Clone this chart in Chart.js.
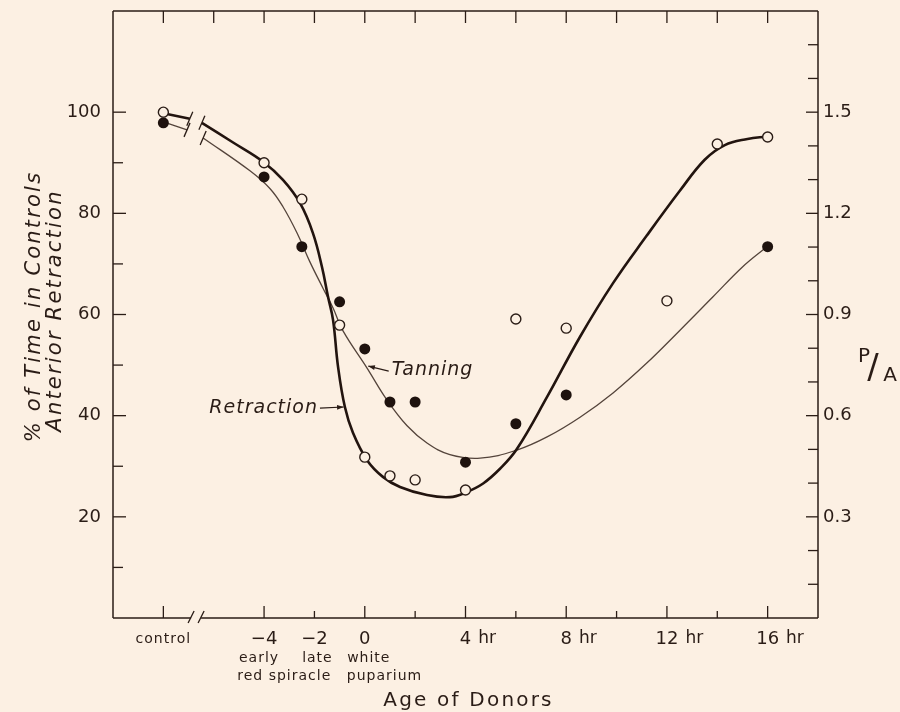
<!DOCTYPE html>
<html>
<head>
<meta charset="utf-8">
<script src="https://cdn.jsdelivr.net/npm/chart.js@4.4.1/dist/chart.umd.min.js"></script>
<style>
  html, body { margin: 0; padding: 0; background: #fcf0e3; }
  #wrap { width: 900px; height: 712px; }
</style>
</head>
<body>
<div id="wrap"><canvas id="chart"></canvas></div>
<script>
// Measured points (x = hours relative to white puparium, control drawn at -8 past the axis break)
const openX = [-8, -4, -2.5, -1, 0, 1, 2, 4, 6, 8, 12, 14, 16];
const openY = [100, 90, 82.8, 57.9, 31.8, 28.1, 27.3, 25.3, 59.1, 57.3, 62.7, 93.7, 95.1];
const filledX = [-8, -4, -2.5, -1, 0, 1, 2, 4, 6, 8, 16];
const filledY = [97.9, 87.2, 73.4, 62.5, 53.2, 42.7, 42.7, 30.8, 38.4, 44.1, 73.4];

// Hand-drawn fitted curves; null marks the axis break.
const retractionX = [-8, -6.95, -6.7, -6.47, -5.23, -4.04, -3.25, -2.57, -2.06, -1.7, -1.46, -1.26, -1.06,
  -0.79, -0.47, 0.09, 0.72, 1.4, 2.47, 3.38, 4.0, 4.7, 5.37, 6.04, 7.24, 8.55, 9.86, 11.2, 12.52, 13.5, 14.3, 15.2, 15.97];
const retractionY = [99.8, 98.7, null, 97.9, 94.0, 90.2, 86.6, 82.0, 76.1, 69.4, 63.5, 58.9, 49.6,
  41.7, 36.6, 31.2, 27.9, 25.9, 24.3, 23.9, 24.8, 26.6, 29.5, 33.4, 43.7, 55.6, 66.2, 75.6, 84.5, 90.6, 93.5, 94.7, 95.2];
const tanningX = [-8, -7.06, -6.7, -6.42, -4.56, -3.77, -3.25, -2.69, -2.18, -1.66, -1.26, -0.87, 0.09,
  0.88, 1.68, 2.47, 3.38, 4.58, 6.04, 7.24, 8.55, 9.86, 11.2, 12.52, 13.83, 15.0, 15.97];
const tanningY = [98.1, 96.5, null, 94.9, 88.4, 84.9, 81.3, 76.1, 70.4, 65.2, 61.3, 56.8, 49.4,
  43.1, 38.0, 34.6, 32.3, 31.6, 33.2, 35.8, 39.7, 44.5, 50.4, 56.9, 63.5, 69.4, 73.4];

// Axis ticks and labels
const xBreak = -6.7;
const topTicks = [-8, -6, -4, -2, 0, 2, 4, 6, 8, 10, 12, 14, 16];
const bottomMajorTicks = [-8, -4, 0, 4, 8, 12, 16];
const bottomMinorTicks = [-2, 2, 6, 10, 14];
const xLabelValues = [-8, -4, -2, 0, 4, 8, 12, 16];
const xLabelText = ['control', '\u22124', '\u22122', '0', '4 hr', '8 hr', '12 hr', '16 hr'];
const stageValues = [-4, -2, 0];
const stageText = ['early', 'late', 'white'];
const leftMajorTicks = [20, 40, 60, 80, 100];
const leftMinorTicks = [10, 30, 50, 70, 90];
const rightMajorTicks = [0.3, 0.6, 0.9, 1.2, 1.5];
const rightMinorTicks = [0.1, 0.2, 0.4, 0.5, 0.7, 0.8, 1.0, 1.1, 1.3, 1.4, 1.6, 1.7];

const INK = '#2a1c16';
const THIN = '#54443b';
const BG = '#fcf0e3';
const FONT = '"DejaVu Sans", sans-serif';

const pts = (xs, ys) => xs.map((x, i) => ({ x, y: ys[i] }));

function line(ctx, x1, y1, x2, y2) {
  ctx.beginPath();
  ctx.moveTo(x1, y1);
  ctx.lineTo(x2, y2);
  ctx.stroke();
}

function text(ctx, s, x, y, font, align, spacing) {
  ctx.font = font;
  ctx.textAlign = align || 'center';
  ctx.textBaseline = 'middle';
  ctx.letterSpacing = spacing || '0px';
  ctx.fillText(s, x, y);
}

function arrow(ctx, x1, y1, x2, y2) {
  line(ctx, x1, y1, x2, y2);
  const a = Math.atan2(y2 - y1, x2 - x1);
  ctx.beginPath();
  ctx.moveTo(x2, y2);
  ctx.lineTo(x2 - 7 * Math.cos(a - 0.35), y2 - 7 * Math.sin(a - 0.35));
  ctx.lineTo(x2 - 7 * Math.cos(a + 0.35), y2 - 7 * Math.sin(a + 0.35));
  ctx.closePath();
  ctx.fill();
}

// Frame, inward ticks, axis break and all lettering are drawn off the chart's own scales.
const figureDecor = {
  id: 'figureDecor',
  beforeDraw(chart) {
    const { ctx, width, height } = chart;
    ctx.save();
    ctx.fillStyle = BG;
    ctx.fillRect(0, 0, width, height);
    ctx.restore();
  },
  afterDatasetsDraw(chart) {
    const { ctx, chartArea: a, scales: { x, y, y1 } } = chart;
    ctx.save();
    ctx.strokeStyle = INK;
    ctx.fillStyle = INK;
    ctx.lineWidth = 1.5;

    // frame (bottom edge broken between control and -4)
    const bx = x.getPixelForValue(xBreak);
    line(ctx, a.left, a.top, a.right, a.top);
    line(ctx, a.left, a.top, a.left, a.bottom);
    line(ctx, a.right, a.top, a.right, a.bottom);
    line(ctx, a.left, a.bottom, bx - 5, a.bottom);
    line(ctx, bx + 5, a.bottom, a.right, a.bottom);
    ctx.lineWidth = 1.3;
    line(ctx, bx - 8, a.bottom + 5, bx - 2, a.bottom - 7);
    line(ctx, bx + 2, a.bottom + 5, bx + 8, a.bottom - 7);

    // ticks
    topTicks.forEach(v => { const p = x.getPixelForValue(v); line(ctx, p, a.top, p, a.top + 12); });
    bottomMajorTicks.forEach(v => { const p = x.getPixelForValue(v); line(ctx, p, a.bottom, p, a.bottom - 12); });
    bottomMinorTicks.forEach(v => { const p = x.getPixelForValue(v); line(ctx, p, a.bottom, p, a.bottom - 7); });
    leftMajorTicks.forEach(v => { const p = y.getPixelForValue(v); line(ctx, a.left, p, a.left + 13, p); });
    leftMinorTicks.forEach(v => { const p = y.getPixelForValue(v); line(ctx, a.left, p, a.left + 10, p); });
    rightMajorTicks.forEach(v => { const p = y1.getPixelForValue(v); line(ctx, a.right, p, a.right - 12, p); });
    rightMinorTicks.forEach(v => { const p = y1.getPixelForValue(v); line(ctx, a.right, p, a.right - 10, p); });

    // break marks on the two curves, either side of the null gap
    [[retractionX, retractionY], [tanningX, tanningY]].forEach(([xs, ys]) => {
      const g = ys.indexOf(null);
      [g - 1, g + 1].forEach(i => {
        const px = x.getPixelForValue(xs[i]);
        const py = y.getPixelForValue(ys[i]);
        line(ctx, px - 3, py + 7, px + 3, py - 7);
      });
    });

    // x tick labels
    const ly = a.bottom + 21;
    xLabelValues.forEach((v, i) => {
      const p = x.getPixelForValue(v);
      const s = xLabelText[i];
      if (v === -8) { text(ctx, s, p, ly, '14px ' + FONT, 'center', '1px'); return; }
      const [num, unit] = s.split(' ');
      text(ctx, num, p, ly, '18px ' + FONT, 'center', '0px');
      if (unit) {
        ctx.font = '18px ' + FONT;
        const w = ctx.measureText(num).width;
        text(ctx, unit, p + w / 2 + 7, ly, '17px ' + FONT, 'left', '0px');
      }
    });
    stageValues.forEach((v, i) => {
      const p = x.getPixelForValue(v);
      const dx = v === 0 ? 4 : -5 + (v === -2 ? 8 : 0);
      text(ctx, stageText[i], p + dx, ly + 19, '14px ' + FONT, 'center', '1px');
    });
    const rs = (x.getPixelForValue(-4) + x.getPixelForValue(-2)) / 2;
    text(ctx, 'red spiracle', rs - 5, ly + 37, '14px ' + FONT, 'center', '1px');
    text(ctx, 'puparium', x.getPixelForValue(0) - 18, ly + 37, '14px ' + FONT, 'left', '1px');
    text(ctx, 'Age of Donors', (a.left + a.right) / 2 + 3, a.bottom + 83, '20px ' + FONT, 'center', '2.2px');

    // y tick labels
    leftMajorTicks.forEach(v => text(ctx, String(v), a.left - 12, y.getPixelForValue(v), '18px ' + FONT, 'right', '0px'));
    rightMajorTicks.forEach(v => text(ctx, v.toFixed(1), a.right + 5, y1.getPixelForValue(v), '18px ' + FONT, 'left', '0px'));

    // right axis name P/A
    const my = y1.getPixelForValue(0.75);
    text(ctx, 'P', a.right + 46, my - 8, '20px ' + FONT, 'center', '0px');
    text(ctx, '/', a.right + 55, my + 4, '34px ' + FONT, 'center', '0px');
    text(ctx, 'A', a.right + 72, my + 11, '20px ' + FONT, 'center', '0px');

    // left axis title, two rotated italic lines
    const cy = (a.top + a.bottom) / 2;
    ctx.save();
    ctx.translate(35, cy - 8);
    ctx.rotate(-Math.PI / 2);
    text(ctx, '% of Time in Controls', 0, 0, 'italic 21px ' + FONT, 'center', '2.2px');
    ctx.restore();
    ctx.save();
    ctx.translate(56, cy - 4);
    ctx.rotate(-Math.PI / 2);
    text(ctx, 'Anterior Retraction', 0, 0, 'italic 21px ' + FONT, 'center', '2.2px');
    ctx.restore();

    // curve captions with arrows
    ctx.lineWidth = 1.1;
    const rTip = [x.getPixelForValue(-0.8), y.getPixelForValue(41.7)];
    const rTail = [x.getPixelForValue(-1.78), y.getPixelForValue(41.5)];
    arrow(ctx, rTail[0], rTail[1], rTip[0] - 1, rTip[1]);
    text(ctx, 'Retraction', rTail[0] - 2, rTail[1], 'italic 19px ' + FONT, 'right', '1px');
    const tTip = [x.getPixelForValue(0.1), y.getPixelForValue(49.8)];
    const tTail = [x.getPixelForValue(0.95), y.getPixelForValue(48.8)];
    arrow(ctx, tTail[0], tTail[1], tTip[0] + 1, tTip[1]);
    text(ctx, 'Tanning', tTail[0] + 3, tTail[1] - 1, 'italic 19px ' + FONT, 'left', '1px');
    ctx.restore();
  }
};

new Chart(document.getElementById('chart'), {
  type: 'scatter',
  data: {
    datasets: [
      {
        label: 'open', data: pts(openX, openY), order: 0,
        pointRadius: 5, pointBorderWidth: 1.4, pointBorderColor: INK, pointBackgroundColor: BG,
      },
      {
        label: 'filled', data: pts(filledX, filledY), order: 0,
        pointRadius: 5.5, pointBorderWidth: 0, pointBackgroundColor: '#1e120e',
      },
      {
        label: 'Retraction', data: pts(retractionX, retractionY), order: 1,
        showLine: true, pointRadius: 0, borderColor: '#22140f', borderWidth: 2.6,
        tension: 0.4, spanGaps: false,
      },
      {
        label: 'Tanning', data: pts(tanningX, tanningY), order: 2,
        showLine: true, pointRadius: 0, borderColor: THIN, borderWidth: 1.3,
        tension: 0.4, spanGaps: false,
      },
    ],
  },
  options: {
    responsive: true,
    maintainAspectRatio: false,
    devicePixelRatio: 1,
    animation: false,
    layout: { padding: { left: 113, right: 82, top: 11, bottom: 94 } },
    plugins: { legend: { display: false }, tooltip: { enabled: false } },
    scales: {
      x: { type: 'linear', min: -10, max: 18, display: false },
      y: { min: 0, max: 120, display: false },
      y1: { min: 0, max: 1.8, display: false, position: 'right' },
    },
  },
  plugins: [figureDecor],
});
</script>
</body>
</html>
